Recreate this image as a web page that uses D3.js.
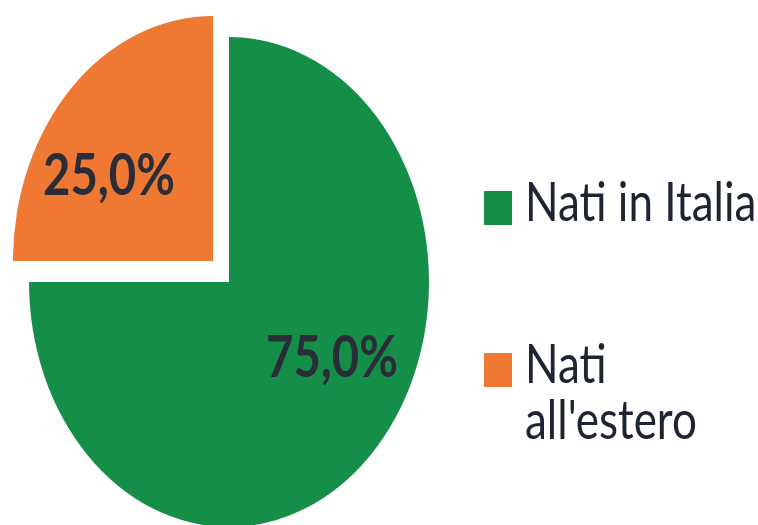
<!DOCTYPE html>
<html><head><meta charset="utf-8">
<script src="https://cdn.jsdelivr.net/npm/d3@7"></script>
<style>html,body{margin:0;padding:0;background:#fff}</style>
</head><body>
<svg id="c" width="758" height="525"></svg>
<script>
const categories = ["Nati in Italia", "Nati all'estero"];
const values = [75.0, 25.0];
const valueLabels = ["75,0%", "25,0%"];
const legendLines = [["Nati in Italia"], ["Nati", "all'estero"]];
const colors = ["#148e48", "#ef7832"];

const svg = d3.select("#c");
const cx = 229, cy = 282, rx = 200, ry = 245, sy = ry / rx;
const explode = [[0, 0], [-16, -21]];
const labelPos = [[0.515, 0.305], [-0.52, -0.35]];

const pie = d3.pie().sort(null).value(d => d)(values);
const arc = d3.arc().innerRadius(0).outerRadius(1);

pie.forEach((p, i) => {
  const g = svg.append("g")
    .attr("transform", `translate(${cx + explode[i][0]},${cy + explode[i][1]})`);
  g.append("path")
    .attr("d", arc(p))
    .attr("transform", `scale(${rx},${ry})`)
    .attr("fill", colors[i]);
  const lx = labelPos[i][0] * rx, ly = labelPos[i][1] * ry;
  g.append("g")
    .attr("transform", `translate(${lx},${ly + 20}) scale(1,${sy})`)
    .append("text")
    .attr("text-anchor", "middle")
    .attr("font-family", "Lato, 'Open Sans', sans-serif")
    .attr("font-weight", "bold")
    .attr("font-size", 47)
    .attr("fill", "#2a2d38")
    .attr("textLength", 132)
    .attr("lengthAdjust", "spacingAndGlyphs")
    .text(valueLabels[i]);
});

const legY = [191, 353];
categories.forEach((c, i) => {
  svg.append("rect")
    .attr("x", 484).attr("y", legY[i])
    .attr("width", 28).attr("height", 34)
    .attr("fill", colors[i]);
  legendLines[i].forEach((t, j) => {
    svg.append("g")
      .attr("transform", `translate(525,${legY[i] + 30 + j * 56}) scale(1,${sy})`)
      .append("text")
      .attr("font-family", "Lato, 'Open Sans', sans-serif")
      .attr("font-size", 44)
      .attr("fill", "#1f2433")
      .text(t);
  });
});
</script>
</body></html>
